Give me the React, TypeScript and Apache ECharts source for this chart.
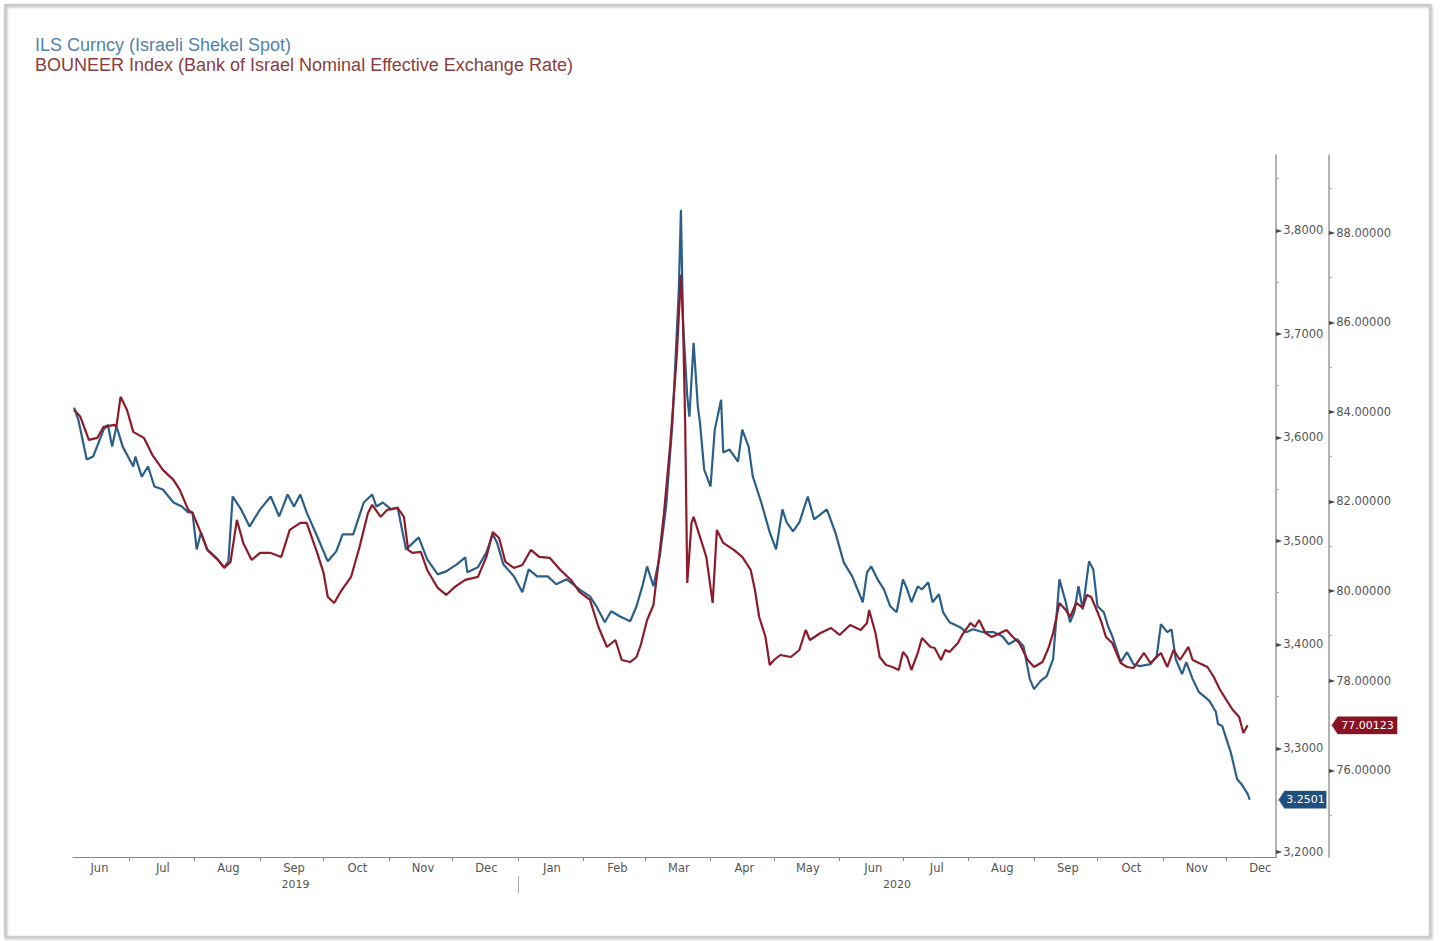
import React, { useEffect, useRef } from 'react';
import * as echarts from 'echarts';

const titleIls = 'ILS Curncy (Israeli Shekel Spot)';
const titleBou = 'BOUNEER Index (Bank of Israel Nominal Effective Exchange Rate)';

const ilsDates = [
  '2019-06-05','2019-06-07','2019-06-11','2019-06-14','2019-06-19','2019-06-21','2019-06-23','2019-06-25','2019-06-26','2019-06-28',
  '2019-07-03','2019-07-04','2019-07-07','2019-07-10','2019-07-13','2019-07-17','2019-07-22','2019-07-26','2019-07-29','2019-07-31',
  '2019-08-02','2019-08-04','2019-08-07','2019-08-12','2019-08-15','2019-08-17','2019-08-19','2019-08-23','2019-08-27','2019-09-01',
  '2019-09-06','2019-09-10','2019-09-14','2019-09-17','2019-09-20','2019-09-23','2019-09-28','2019-10-03','2019-10-07','2019-10-10',
  '2019-10-15','2019-10-20','2019-10-24','2019-10-26','2019-10-29','2019-11-02','2019-11-05','2019-11-09','2019-11-15','2019-11-19',
  '2019-11-24','2019-11-28','2019-12-03','2019-12-07','2019-12-08','2019-12-13','2019-12-17','2019-12-20','2019-12-22','2019-12-25',
  '2019-12-30','2020-01-03','2020-01-06','2020-01-10','2020-01-15','2020-01-19','2020-01-24','2020-01-30','2020-02-04','2020-02-07',
  '2020-02-11','2020-02-14','2020-02-18','2020-02-23','2020-02-26','2020-02-29','2020-03-02','2020-03-05','2020-03-08','2020-03-11',
  '2020-03-14','2020-03-17','2020-03-18','2020-03-19','2020-03-21','2020-03-22','2020-03-24','2020-03-26','2020-03-27','2020-03-29',
  '2020-04-01','2020-04-03','2020-04-06','2020-04-07','2020-04-10','2020-04-14','2020-04-16','2020-04-19','2020-04-21','2020-04-25',
  '2020-04-29','2020-05-02','2020-05-05','2020-05-07','2020-05-10','2020-05-13','2020-05-17','2020-05-20','2020-05-26','2020-05-30',
  '2020-06-03','2020-06-07','2020-06-12','2020-06-14','2020-06-16','2020-06-19','2020-06-22','2020-06-25','2020-06-28','2020-07-01',
  '2020-07-03','2020-07-05','2020-07-08','2020-07-10','2020-07-13','2020-07-15','2020-07-18','2020-07-20','2020-07-23','2020-07-28',
  '2020-07-31','2020-08-03','2020-08-08','2020-08-13','2020-08-17','2020-08-20','2020-08-24','2020-08-27','2020-08-30','2020-09-01',
  '2020-09-04','2020-09-07','2020-09-10','2020-09-13','2020-09-16','2020-09-18','2020-09-20','2020-09-22','2020-09-24','2020-09-27',
  '2020-09-29','2020-10-01','2020-10-04','2020-10-06','2020-10-08','2020-10-12','2020-10-15','2020-10-18','2020-10-21','2020-10-26',
  '2020-10-29','2020-10-31','2020-11-03','2020-11-05','2020-11-07','2020-11-10','2020-11-12','2020-11-15','2020-11-18','2020-11-22',
  '2020-11-23','2020-11-26','2020-11-27','2020-11-29','2020-12-03','2020-12-06','2020-12-08','2020-12-11','2020-12-12'
];
const ilsValues = [
  3.6285,3.6170,3.5784,3.5813,3.6073,3.6121,3.5909,3.6102,3.6044,3.5909,
  3.5717,3.5813,3.5620,3.5717,3.5524,3.5495,3.5370,3.5331,3.5274,3.5274,
  3.4917,3.5081,3.4917,3.4821,3.4744,3.4802,3.5428,3.5303,3.5139,3.5303,
  3.5428,3.5235,3.5447,3.5331,3.5447,3.5274,3.5042,3.4802,3.4898,3.5062,
  3.5062,3.5370,3.5447,3.5331,3.5370,3.5303,3.5322,3.4917,3.5033,3.4821,
  3.4676,3.4705,3.4773,3.4840,3.4696,3.4744,3.4888,3.5062,3.4985,3.4773,
  3.4657,3.4503,3.4724,3.4657,3.4657,3.4580,3.4628,3.4532,3.4464,3.4368,
  3.4214,3.4320,3.4272,3.4224,3.4368,3.4580,3.4753,3.4561,3.4850,3.5331,
  3.6141,3.7422,3.8193,3.7104,3.6391,3.6198,3.6911,3.6295,3.6141,3.5688,
  3.5524,3.6073,3.6362,3.5852,3.5881,3.5765,3.6073,3.5909,3.5620,3.5370,
  3.5081,3.4917,3.5303,3.5177,3.5091,3.5177,3.5428,3.5206,3.5303,3.5081,
  3.4792,3.4657,3.4407,3.4696,3.4753,3.4628,3.4532,3.4368,3.4310,3.4628,
  3.4532,3.4407,3.4561,3.4532,3.4599,3.4407,3.4484,3.4310,3.4214,3.4166,
  3.4118,3.4146,3.4118,3.4118,3.4079,3.4002,3.4050,3.3983,3.3665,3.3568,
  3.3645,3.3694,3.3857,3.4628,3.4407,3.4214,3.4310,3.4561,3.4339,3.4802,
  3.4724,3.4368,3.4310,3.4175,3.4079,3.3829,3.3925,3.3809,3.3790,3.3809,
  3.3886,3.4195,3.4118,3.4146,3.3857,3.3713,3.3829,3.3665,3.3539,3.3472,
  3.3453,3.3347,3.3231,3.3212,3.2961,3.2701,3.2653,3.2557,3.2501
];

const bouDates = [
  '2019-06-05','2019-06-08','2019-06-12','2019-06-16','2019-06-19','2019-06-24','2019-06-25','2019-06-27','2019-06-30','2019-07-03',
  '2019-07-08','2019-07-12','2019-07-17','2019-07-22','2019-07-25','2019-07-29','2019-07-31','2019-08-04','2019-08-07','2019-08-12',
  '2019-08-15','2019-08-18','2019-08-21','2019-08-24','2019-08-28','2019-09-01','2019-09-06','2019-09-11','2019-09-15','2019-09-20',
  '2019-09-23','2019-09-28','2019-10-01','2019-10-03','2019-10-06','2019-10-09','2019-10-14','2019-10-18','2019-10-22','2019-10-24',
  '2019-10-28','2019-10-31','2019-11-05','2019-11-08','2019-11-10','2019-11-12','2019-11-16','2019-11-19','2019-11-24','2019-11-28',
  '2019-12-02','2019-12-07','2019-12-13','2019-12-17','2019-12-20','2019-12-23','2019-12-26','2019-12-30','2020-01-03','2020-01-07',
  '2020-01-11','2020-01-16','2020-01-21','2020-01-26','2020-01-30','2020-02-04','2020-02-08','2020-02-12','2020-02-16','2020-02-19',
  '2020-02-23','2020-02-26','2020-02-28','2020-03-02','2020-03-05','2020-03-07','2020-03-10','2020-03-13','2020-03-16','2020-03-18',
  '2020-03-19','2020-03-20','2020-03-21','2020-03-23','2020-03-24','2020-03-27','2020-03-30','2020-04-02','2020-04-04','2020-04-07',
  '2020-04-12','2020-04-16','2020-04-20','2020-04-22','2020-04-24','2020-04-27','2020-04-29','2020-05-01','2020-05-04','2020-05-09',
  '2020-05-13','2020-05-16','2020-05-18','2020-05-23','2020-05-28','2020-06-01','2020-06-06','2020-06-11','2020-06-14','2020-06-15',
  '2020-06-18','2020-06-20','2020-06-23','2020-06-26','2020-06-29','2020-07-01','2020-07-03','2020-07-05','2020-07-08','2020-07-10',
  '2020-07-14','2020-07-16','2020-07-19','2020-07-21','2020-07-23','2020-07-27','2020-07-29','2020-08-02','2020-08-04','2020-08-06',
  '2020-08-09','2020-08-12','2020-08-16','2020-08-19','2020-08-22','2020-08-25','2020-08-29','2020-09-01','2020-09-05','2020-09-08',
  '2020-09-10','2020-09-13','2020-09-16','2020-09-18','2020-09-21','2020-09-24','2020-09-26','2020-09-28','2020-10-01','2020-10-03',
  '2020-10-05','2020-10-08','2020-10-12','2020-10-15','2020-10-18','2020-10-23','2020-10-26','2020-10-31','2020-11-03','2020-11-06',
  '2020-11-09','2020-11-13','2020-11-15','2020-11-18','2020-11-22','2020-11-25','2020-11-28','2020-12-01','2020-12-04','2020-12-07',
  '2020-12-09','2020-12-11'
];
const bouValues = [
  84.045,83.888,83.374,83.419,83.665,83.709,83.665,84.335,84.045,83.553,
  83.419,83.039,82.704,82.480,82.257,81.810,81.743,81.296,80.916,80.693,
  80.514,80.648,81.587,81.073,80.693,80.849,80.849,80.760,81.363,81.520,
  81.520,80.849,80.402,79.866,79.732,79.978,80.313,80.983,81.743,81.922,
  81.654,81.810,81.855,81.654,80.916,80.849,80.872,80.469,80.067,79.911,
  80.089,80.246,80.313,80.760,81.318,81.184,80.648,80.514,80.581,80.916,
  80.760,80.737,80.469,80.246,79.978,79.799,79.196,78.749,78.905,78.458,
  78.413,78.525,78.793,79.352,79.687,80.469,81.743,83.307,85.229,87.060,
  85.989,83.754,80.179,81.520,81.654,81.207,80.760,79.732,81.363,81.073,
  80.916,80.760,80.469,80.022,79.419,78.972,78.346,78.458,78.570,78.525,
  78.682,79.128,78.905,79.061,79.173,79.017,79.240,79.128,79.285,79.575,
  79.061,78.525,78.346,78.302,78.235,78.637,78.525,78.235,78.615,78.950,
  78.749,78.726,78.458,78.682,78.637,78.838,79.017,79.285,79.196,79.352,
  79.061,78.972,79.061,79.128,78.972,78.838,78.458,78.302,78.413,78.749,
  79.061,79.732,79.575,79.419,79.732,79.620,79.911,79.866,79.531,79.285,
  78.972,78.838,78.391,78.302,78.279,78.615,78.391,78.615,78.302,78.682,
  78.458,78.749,78.458,78.391,78.302,78.078,77.788,77.564,77.341,77.184,
  76.827,77.00123
];

const ilsTicks = [3.2, 3.3, 3.4, 3.5, 3.6, 3.7, 3.8];
const ilsMinorTicks = [3.25, 3.35, 3.45, 3.55, 3.65, 3.75, 3.85];
const bouTicks = [76, 78, 80, 82, 84, 86, 88];
const bouMinorTicks = [75, 77, 79, 81, 83, 85, 87, 89];
const monthNames = ['Jan', 'Feb', 'Mar', 'Apr', 'May', 'Jun', 'Jul', 'Aug', 'Sep', 'Oct', 'Nov', 'Dec'];
const yearLabels = [2019, 2020];

const BLUE = '#2c5f88';
const RED = '#8c1b2c';
const FONT = 'DejaVu Sans';

export default function App() {
  const ref = useRef<HTMLDivElement>(null);

  useEffect(() => {
    if (!ref.current) return;
    const chart = echarts.init(ref.current, undefined, { renderer: 'svg' });

    const xMin = Date.UTC(2019, 5, 4, 12);
    const xMax = Date.UTC(2020, 11, 24, 10);

    const monthStarts: number[] = [];
    const monthMids: number[] = [];
    for (let y = 2019; y <= 2020; y++) {
      for (let m = 0; m < 12; m++) {
        const s = Date.UTC(y, m, 1);
        const mid = Date.UTC(y, m, 17);
        if (s > xMin && s < xMax) monthStarts.push(s);
        if (mid > xMin && mid < xMax) monthMids.push(mid);
      }
    }
    const yearMids = yearLabels.map((yr) => {
      const a = Math.max(xMin, Date.UTC(yr, 0, 1));
      const b = Math.min(xMax, Date.UTC(yr + 1, 0, 1));
      return (a + b) / 2;
    });
    const yearBreaks = yearLabels.slice(1).map((yr) => Date.UTC(yr, 0, 1));

    const ilsData = ilsDates.map((d, i) => [Date.parse(d + 'T00:00:00Z'), ilsValues[i]]);
    const bouData = bouDates.map((d, i) => [Date.parse(d + 'T00:00:00Z'), bouValues[i]]);
    const lastIls = ilsValues[ilsValues.length - 1];
    const lastBou = bouValues[bouValues.length - 1];

    const tickRich = {
      a: { fontSize: 8, color: '#444', fontFamily: FONT, verticalAlign: 'middle' },
      v: { fontSize: 11.5, color: '#555', fontFamily: FONT, verticalAlign: 'middle', padding: [0, 0, 0, 1] },
    };

    chart.setOption({
      animation: false,
      backgroundColor: '#fff',
      title: {
        left: 35,
        top: 35,
        padding: 0,
        text: `{a|${titleIls}}\n{b|${titleBou}}`,
        textStyle: {
          fontWeight: 'normal',
          rich: {
            a: { color: '#5282ab', fontSize: 18, fontWeight: 'normal', fontFamily: 'Liberation Sans', lineHeight: 20 },
            b: { color: '#8a3d3d', fontSize: 18, fontWeight: 'normal', fontFamily: 'Liberation Sans', lineHeight: 20 },
          },
        },
      },
      graphic: [
        {
          type: 'rect',
          silent: true,
          shape: { x: 5, y: 5, width: 1425, height: 932 },
          style: {
            fill: 'none',
            stroke: '#cccccc',
            lineWidth: 2,
            shadowBlur: 3,
            shadowOffsetX: 1,
            shadowOffsetY: 1,
            shadowColor: 'rgba(0,0,0,0.35)',
          },
        },
      ],
      grid: { left: 73, right: 164, top: 155, bottom: 84 },
      xAxis: [
        {
          type: 'value',
          min: xMin,
          max: xMax,
          position: 'bottom',
          axisLine: { show: true, lineStyle: { color: '#888', width: 1 } },
          axisTick: { show: true, customValues: monthStarts, length: 4, lineStyle: { color: '#888' } },
          axisLabel: {
            customValues: monthMids,
            formatter: (v: number) => monthNames[new Date(v).getUTCMonth()],
            fontSize: 11.5,
            fontFamily: FONT,
            color: '#555',
            margin: 5,
          },
          splitLine: { show: false },
        },
        {
          type: 'value',
          min: xMin,
          max: xMax,
          position: 'bottom',
          offset: 19,
          axisLine: { show: false },
          axisTick: { show: true, customValues: yearBreaks, length: 17, lineStyle: { color: '#aaa' } },
          axisLabel: {
            customValues: yearMids,
            formatter: (v: number) => String(new Date(v).getUTCFullYear()),
            fontSize: 11,
            fontFamily: FONT,
            color: '#555',
            margin: 3,
          },
          splitLine: { show: false },
        },
      ],
      yAxis: [
        {
          type: 'value',
          position: 'right',
          offset: 0,
          min: 3.1948,
          max: 3.8724,
          axisLine: { show: true, lineStyle: { color: '#999', width: 1.5 } },
          axisTick: { show: true, customValues: ilsMinorTicks, length: 3, lineStyle: { color: '#aaa' } },
          axisLabel: {
            customValues: ilsTicks,
            margin: 0,
            formatter: (v: number) => `{a|►}{v|${v.toFixed(4).replace('.', ',')}}`,
            rich: tickRich,
          },
          splitLine: { show: false },
        },
        {
          type: 'value',
          position: 'right',
          offset: 53,
          min: 74.059,
          max: 89.735,
          axisLine: { show: true, lineStyle: { color: '#999', width: 1.5 } },
          axisTick: { show: true, customValues: bouMinorTicks, length: 3, lineStyle: { color: '#aaa' } },
          axisLabel: {
            customValues: bouTicks,
            margin: 0,
            formatter: (v: number) => `{a|►}{v|${v.toFixed(5)}}`,
            rich: tickRich,
          },
          splitLine: { show: false },
        },
      ],
      series: [
        {
          name: 'ILS Curncy',
          type: 'line',
          xAxisIndex: 0,
          yAxisIndex: 0,
          data: ilsData,
          showSymbol: false,
          clip: false,
          lineStyle: { color: BLUE, width: 2.2 },
          itemStyle: { color: BLUE },
          z: 3,
          markPoint: {
            silent: true,
            symbol: 'path://M0,9 L6,0 L50,0 L50,18 L6,18 Z',
            symbolSize: [49, 18],
            symbolOffset: [26.5, 0],
            itemStyle: { color: '#1f4f7c', borderColor: 'rgba(255,255,255,0.7)', borderWidth: 1 },
            label: {
              show: true,
              position: 'inside',
              offset: [3, 0],
              color: '#fff',
              fontSize: 11,
              fontFamily: FONT,
              formatter: () => lastIls.toFixed(4),
            },
            data: [{ coord: [xMax, lastIls] }],
          },
        },
        {
          name: 'BOUNEER Index',
          type: 'line',
          xAxisIndex: 0,
          yAxisIndex: 1,
          data: bouData,
          showSymbol: false,
          clip: false,
          lineStyle: { color: RED, width: 2.2 },
          itemStyle: { color: RED },
          z: 4,
          markPoint: {
            silent: true,
            symbol: 'path://M0,9 L6,0 L67,0 L67,18 L6,18 Z',
            symbolSize: [67, 18],
            symbolOffset: [88.5, 0],
            itemStyle: { color: '#861224', borderColor: 'rgba(255,255,255,0.7)', borderWidth: 1 },
            label: {
              show: true,
              position: 'inside',
              offset: [3, 0],
              color: '#fff',
              fontSize: 11,
              fontFamily: FONT,
              formatter: () => lastBou.toFixed(5),
            },
            data: [{ coord: [xMax, lastBou] }],
          },
        },
      ],
    });

    return () => chart.dispose();
  }, []);

  return (
    <div
      ref={ref}
      style={{ position: 'absolute', left: 0, top: 0, width: 1440, height: 941, background: '#fff' }}
    />
  );
}
